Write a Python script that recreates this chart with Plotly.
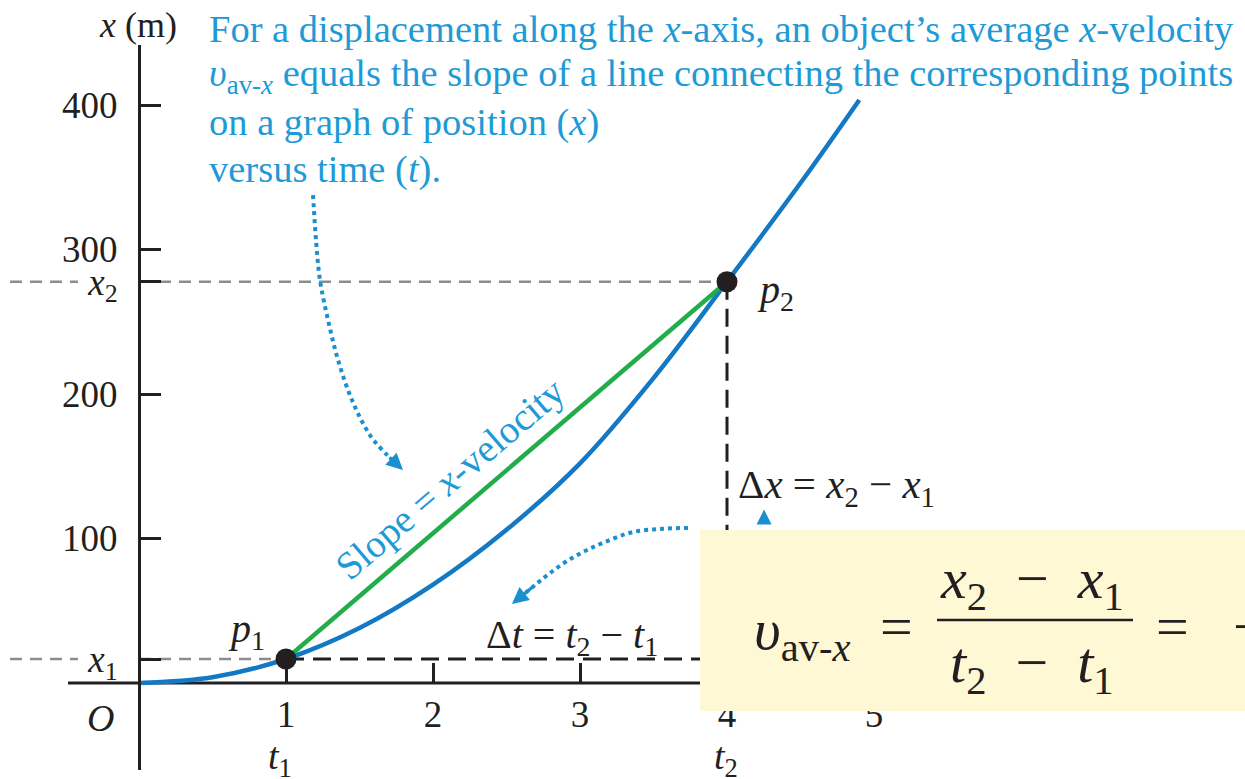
import plotly.graph_objects as go

# ---------------- data ----------------
t_vals = [0, 0.5, 1, 1.5, 2, 2.5, 3, 3.5, 4, 4.5, 4.9]
x_vals = [0, 4, 16.6, 38, 68, 106, 152, 211, 277.7, 346, 403.5]
t1, t2 = 1, 4
x1, x2 = 16.6, 277.7
x_tick_vals = [1, 2, 3, 4, 5]
x_tick_text = ["1", "2", "3", "4", "5"]
y_tick_vals = [x1, 100, 200, x2, 300, 400]
y_tick_text = ["<i>x</i><sub>1</sub>", "100", "200", "<i>x</i><sub>2</sub>", "300", "400"]

# dotted callout arrows (data coordinates)
arrow1_t = [1.184, 1.204, 1.231, 1.286, 1.354, 1.449, 1.571, 1.694, 1.762]
arrow1_x = [337.7, 306.6, 278.9, 251.2, 223.5, 195.8, 171.6, 157.1, 150.9]
arrow1_tip = (1.796, 147.4)
arrow2_t = [3.735, 3.544, 3.361, 3.204, 3.048, 2.912, 2.796, 2.694, 2.605]
arrow2_x = [107.3, 106.6, 104.5, 99.0, 92.0, 84.4, 76.1, 67.8, 60.2]
arrow2_tip = (2.537, 54.7)
arrow3_t = 4.252
arrow3_x = [111.0, 120.0]

# ---------------- geometry helpers ----------------
W, H = 1245, 779
T0_PX, T_SCALE = 139, 147.0
X0_PX, X_SCALE = 683, 1.445


def px2t(p):
    return (p - T0_PX) / T_SCALE


def py2x(p):
    return (X0_PX - p) / X_SCALE


def fx(p):
    return p / W


def fy(p):
    return 1 - p / H


DARK = "#231f20"
BLUE_TXT = "#1e9ad6"
CURVE = "#1479c4"
GREEN = "#22ad4b"
DOTC = "#1a90d0"
GRAY = "#8c8c8c"
BOX = "#fef8d5"
SERIF = "Liberation Serif"

fig = go.Figure()

# gray dashed guides to x1 and x2
fig.add_trace(go.Scatter(
    x=[px2t(10), px2t(78), None, 0, t2, None, px2t(10), px2t(78), None, 0, t1],
    y=[x2, x2, None, x2, x2, None, x1, x1, None, x1, x1],
    mode="lines", line=dict(color=GRAY, width=2.5, dash="12px,8px"),
    hoverinfo="skip"))

# black dashed delta legs
fig.add_trace(go.Scatter(
    x=[t1, t2, None, t2, t2],
    y=[x1, x1, None, x2, 0],
    mode="lines", line=dict(color=DARK, width=3, dash="18px,9px"),
    hoverinfo="skip"))

# position curve
fig.add_trace(go.Scatter(
    x=t_vals, y=x_vals, mode="lines",
    line=dict(color=CURVE, width=4.5, shape="spline", smoothing=1.0),
    hoverinfo="skip"))

# secant
fig.add_trace(go.Scatter(
    x=[t1, t2], y=[x1, x2], mode="lines",
    line=dict(color=GREEN, width=4.5), hoverinfo="skip"))

# points
fig.add_trace(go.Scatter(
    x=[t1, t2], y=[x1, x2], mode="markers",
    marker=dict(color=DARK, size=21), hoverinfo="skip"))

# dotted arrows
for tt, xx in [(arrow1_t, arrow1_x), (arrow2_t, arrow2_x)]:
    fig.add_trace(go.Scatter(
        x=tt, y=xx, mode="lines",
        line=dict(color=DOTC, width=4, dash="dot", shape="spline"),
        hoverinfo="skip"))

shapes = [
    # horizontal axis line
    dict(type="line", xref="paper", yref="y", x0=fx(68), x1=1, y0=0, y1=0,
         line=dict(color=DARK, width=3), layer="below"),
    # formula box
    dict(type="rect", xref="paper", yref="paper", x0=fx(700), x1=1.01,
         y0=fy(711), y1=fy(530), fillcolor=BOX, line=dict(width=0), layer="above"),
    # fraction bar
    dict(type="line", xref="paper", yref="paper", x0=fx(937), x1=fx(1133),
         y0=fy(620), y1=fy(620), line=dict(color=DARK, width=2.5), layer="above"),
]

ann = []


def text(px, py, s, size=36, color=DARK, xanchor="center", yanchor="middle", **kw):
    ann.append(dict(xref="paper", yref="paper", x=fx(px), y=fy(py), text=s,
                    showarrow=False, xanchor=xanchor, yanchor=yanchor,
                    font=dict(family=SERIF, size=size, color=color), **kw))


para = [
    "For a displacement along the <i>x</i>-axis, an object’s average <i>x</i>-velocity",
    "<i>υ</i><sub>av-<i>x</i></sub> equals the slope of a line connecting the corresponding points",
    "on a graph of position (<i>x</i>)",
    "versus time (<i>t</i>).",
]
for i, line in enumerate(para):
    text(207, 29 + 46.7 * i, line, size=38.5, color=BLUE_TXT, xanchor="left")

text(138, 25, "<i>x</i> (m)", size=36)
text(100, 718, "<i>O</i>", size=38)
text(246, 631, "<i>p</i><sub>1</sub>", size=40)
text(775, 292, "<i>p</i><sub>2</sub>", size=40)
text(280, 759, "<i>t</i><sub>1</sub>", size=38)
text(726, 759, "<i>t</i><sub>2</sub>", size=38)
text(572, 637, "Δ<i>t</i> = <i>t</i><sub>2</sub> − <i>t</i><sub>1</sub>", size=40)
text(736, 487, "Δ<i>x</i> = <i>x</i><sub>2</sub> − <i>x</i><sub>1</sub>", size=41, xanchor="left")
text(450, 479, "Slope = <i>x</i>-velocity", size=39, color=BLUE_TXT, textangle=-40.5)

# formula
NB = "&nbsp;"
text(802, 633, "<i>υ</i><sub>av-<i>x</i></sub>", size=58)
text(896, 626, "=", size=58)
text(1032, 582, "<i>x</i><sub>2</sub>" + NB + " − " + NB + "<i>x</i><sub>1</sub>", size=58)
text(1032, 666, "<i>t</i><sub>2</sub>" + NB + " − " + NB + "<i>t</i><sub>1</sub>", size=58)
text(1172, 626, "=", size=58)
text(1231, 626, "−", size=58, xanchor="left")

# arrowheads
for tip, tail in [(arrow1_tip, (arrow1_t[-2], arrow1_x[-2])),
                  (arrow2_tip, (arrow2_t[-2], arrow2_x[-2]))]:
    ann.append(dict(xref="x", yref="y", axref="x", ayref="y",
                    x=tip[0], y=tip[1], ax=tail[0], ay=tail[1], text="",
                    showarrow=True, arrowhead=2, arrowsize=1.1, arrowwidth=3,
                    arrowcolor=DOTC))
ann.append(dict(xref="x", yref="y", axref="x", ayref="y",
                x=arrow3_t, y=arrow3_x[1], ax=arrow3_t, ay=arrow3_x[0], text="",
                showarrow=True, arrowhead=2, arrowsize=1.0, arrowwidth=3,
                arrowcolor=DOTC))

fig.update_layout(
    width=W, height=H, margin=dict(l=0, r=0, t=0, b=0),
    paper_bgcolor="white", plot_bgcolor="rgba(0,0,0,0)",
    showlegend=False, shapes=shapes, annotations=ann,
    xaxis=dict(domain=[0, 1], range=[px2t(0), px2t(W)], anchor="free",
               position=fy(683), showline=False, zeroline=False, showgrid=False,
               ticks="inside", ticklen=20, tickwidth=3, tickcolor=DARK,
               tickvals=x_tick_vals, ticktext=x_tick_text,
               tickfont=dict(family=SERIF, size=37, color=DARK),
               ticklabelstandoff=6, fixedrange=True),
    yaxis=dict(domain=[fy(770), fy(45)], range=[py2x(770), py2x(45)], anchor="free",
               position=fx(T0_PX), showline=True, linewidth=3, linecolor=DARK,
               zeroline=False, showgrid=False,
               ticks="inside", ticklen=20, tickwidth=3, tickcolor=DARK,
               tickvals=y_tick_vals, ticktext=y_tick_text,
               tickfont=dict(family=SERIF, size=37, color=DARK),
               ticklabelstandoff=13, fixedrange=True),
)

fig.write_html("out.html", config={"displayModeBar": False},
               post_script="document.body.style.margin='0';document.body.style.overflow='hidden';")
